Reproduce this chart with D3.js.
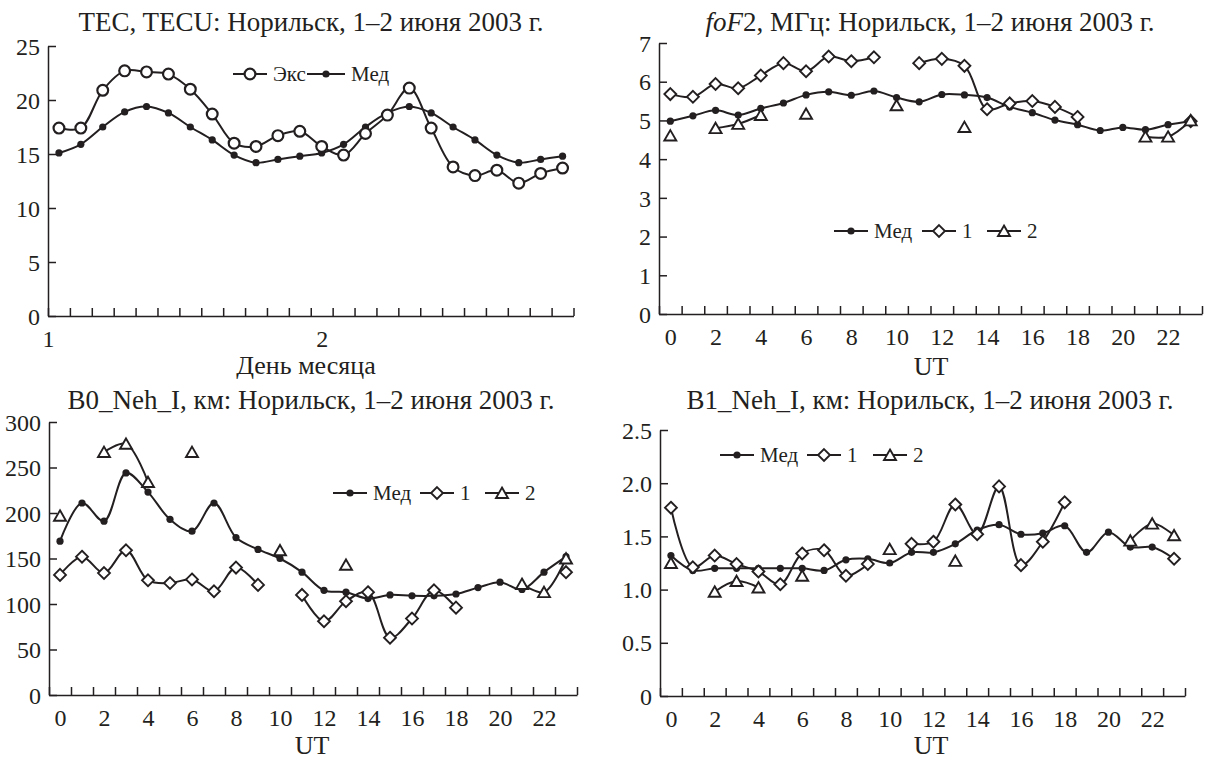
<!DOCTYPE html>
<html>
<head>
<meta charset="utf-8">
<script src="https://cdn.jsdelivr.net/npm/d3@7"></script>
<style>
  body { margin: 0; background: #fff; }
  svg { display: block; font-family: "Liberation Serif", "Times New Roman", serif; }
</style>
</head>
<body>
<svg id="chart" width="1211" height="762"></svg>
<script>
// TEC, two-hour steps over 1-2 June
const tecDayLabels = ['1', '2'];
const tecDayAt = [-0.5, 12];
const tecExc = [17.4, 17.4, 20.9, 22.7, 22.6, 22.4, 21.0, 18.7, 16.0, 15.7, 16.7, 17.1,
                15.7, 14.9, 16.9, 18.6, 21.1, 17.4, 13.8, 13.0, 13.5, 12.3, 13.2, 13.7];
const tecMed = [15.1, 15.9, 17.5, 18.9, 19.4, 18.8, 17.5, 16.3, 14.9, 14.2, 14.5, 14.8,
                15.1, 15.9, 17.5, 18.8, 19.4, 18.8, 17.5, 16.3, 14.9, 14.2, 14.5, 14.8];

// hourly UT panels
const utLabels = ['0', '2', '4', '6', '8', '10', '12', '14', '16', '18', '20', '22'];
const utAt = [0, 2, 4, 6, 8, 10, 12, 14, 16, 18, 20, 22];

const foMed = [4.98, 5.12, 5.26, 5.14, 5.31, 5.45, 5.66, 5.74, 5.65, 5.76, 5.59, 5.48,
               5.67, 5.66, 5.59, 5.35, 5.20, 5.01, 4.89, 4.74, 4.82, 4.76, 4.89, 4.97];
const foOne = [5.68, 5.61, 5.94, 5.83, 6.16, 6.48, 6.27, 6.65, 6.53, 6.63, null, 6.48,
               6.59, 6.41, 5.29, 5.44, 5.50, 5.35, 5.09, null, null, null, null, 4.98];
const foTwo = [4.61, null, 4.80, 4.91, 5.14, null, 5.17, null, null, null, 5.39, null,
               null, 4.83, null, null, null, null, null, null, null, 4.58, 4.58, 5.00];

const b0Med = [169, 211, 191, 244, 223, 193, 180, 211, 173, 160, 150, 135,
               115, 113, 106, 110, 109, 109, 111, 118, 124, 116, 135, 152];
const b0One = [132, 152, 134, 159, 126, 123, 127, 114, 140, 121, null, 110,
               81, 103, 113, 63, 84, 115, 96, null, null, null, null, 135];
const b0Two = [197, null, 267, 276, 234, null, 267, null, null, null, 159, null,
               null, 143, null, null, null, null, null, null, null, 122, 113, 150];

const b1Med = [1.32, 1.18, 1.20, 1.20, 1.20, 1.20, 1.20, 1.18, 1.28, 1.29, 1.25, 1.35,
               1.35, 1.43, 1.56, 1.61, 1.52, 1.53, 1.60, 1.35, 1.54, 1.40, 1.40, 1.29];
const b1One = [1.77, 1.21, 1.32, 1.24, 1.17, 1.05, 1.34, 1.37, 1.13, 1.24, null, 1.43,
               1.45, 1.80, 1.52, 1.97, 1.23, 1.45, 1.82, null, null, null, null, 1.29];
const b1Two = [1.25, null, 0.98, 1.08, 1.02, null, 1.13, null, null, null, 1.38, null,
               null, 1.27, null, null, null, null, null, null, null, 1.46, 1.62, 1.51];

const ink = '#231f20';
const serif = '"Liberation Serif", "Times New Roman", serif';
const svg = d3.select('#chart');

function markerPath(kind) {
  if (kind === 'diamond') return d3.symbol(d3.symbolDiamond2, 90)();
  if (kind === 'triangle') return d3.symbol(d3.symbolTriangle, 62)();
  return null;
}

function addMarker(g, kind, cx, cy) {
  if (kind === 'dot') {
    g.append('circle').attr('cx', cx).attr('cy', cy).attr('r', 3.6).attr('fill', ink);
  } else if (kind === 'circle') {
    g.append('circle').attr('cx', cx).attr('cy', cy).attr('r', 5.4)
      .attr('fill', '#fff').attr('stroke', ink).attr('stroke-width', 2.2);
  } else {
    g.append('path').attr('d', markerPath(kind))
      .attr('transform', `translate(${cx},${cy + (kind === 'triangle' ? 1.5 : 0)})`)
      .attr('fill', '#fff').attr('stroke', ink).attr('stroke-width', 1.9);
  }
}

function drawPanel(p) {
  const g = svg.append('g');
  const x = d3.scaleLinear().domain([-0.5, 23.5]).range([p.left, p.right]);
  const y = d3.scaleLinear().domain([0, p.yMax]).range([p.bottom, p.top]);

  const styleAxis = a => a
    .attr('font-family', serif)
    .attr('font-size', 24)
    .attr('color', ink)
    .call(a => a.selectAll('line, path').attr('stroke-width', 1.5));

  g.append('g')
    .attr('transform', `translate(${p.left},0)`)
    .call(d3.axisLeft(y).tickValues(p.yTicks).tickFormat(p.yFormat)
      .tickSizeInner(-8).tickSizeOuter(0).tickPadding(8))
    .call(styleAxis)
    .call(a => a.selectAll('text').attr('dy', '0.34em'));

  g.append('g')
    .attr('transform', `translate(0,${p.bottom})`)
    .call(d3.axisBottom(x).tickValues(d3.range(-0.5, 24, 1)).tickFormat('')
      .tickSizeInner(-8).tickSizeOuter(0))
    .call(styleAxis);

  g.append('g')
    .attr('transform', `translate(0,${p.bottom})`)
    .call(d3.axisBottom(x).tickValues(p.xAt).tickFormat((d, i) => p.xLabels[i])
      .tickSize(0).tickPadding(14))
    .call(styleAxis)
    .call(a => a.select('.domain').remove());

  const line = d3.line()
    .defined(d => d[1] != null)
    .x(d => x(d[0]))
    .y(d => y(d[1]))
    .curve(d3.curveCatmullRom);

  p.series.forEach(s => {
    const pts = s.values.map((v, i) => [i, v]);
    g.append('path')
      .attr('d', line(pts))
      .attr('fill', 'none')
      .attr('stroke', ink)
      .attr('stroke-width', 2)
      .attr('stroke-linejoin', 'round');
  });
  p.series.forEach(s => {
    s.values.forEach((v, i) => {
      if (v != null) addMarker(g, s.marker, x(i), y(v));
    });
  });

  // legend
  p.legend.forEach(it => {
    g.append('line').attr('x1', it.x0).attr('x2', it.x1)
      .attr('y1', p.legendY).attr('y2', p.legendY)
      .attr('stroke', ink).attr('stroke-width', 2);
    addMarker(g, it.marker, (it.x0 + it.x1) / 2, p.legendY);
    g.append('text').attr('x', it.x1 + 6).attr('y', p.legendY).attr('dy', '0.34em')
      .attr('font-size', 21).attr('fill', ink).text(it.label);
  });

  const title = g.append('text')
    .attr('x', p.titleX).attr('y', p.titleY)
    .attr('text-anchor', 'middle').attr('font-size', 27).attr('fill', ink);
  p.title.forEach(t => title.append('tspan').attr('font-style', t.italic ? 'italic' : null).text(t.text));

  g.append('text')
    .attr('x', p.xTitleX).attr('y', p.xTitleY)
    .attr('text-anchor', 'middle').attr('font-size', 26).attr('fill', ink)
    .text(p.xTitle);
}

const place = ', км: Норильск, 1–2 июня 2003 г.';

drawPanel({
  left: 48, right: 573.5, top: 46, bottom: 316, yMax: 25,
  yTicks: [0, 5, 10, 15, 20, 25], yFormat: d3.format('d'),
  xAt: tecDayAt, xLabels: tecDayLabels,
  series: [{ values: tecMed, marker: 'dot' }, { values: tecExc, marker: 'circle' }],
  legendY: 74,
  legend: [
    { x0: 233, x1: 267, marker: 'circle', label: 'Экс' },
    { x0: 307, x1: 345, marker: 'dot', label: 'Мед' }
  ],
  title: [{ text: 'TEC, TECU: Норильск, 1–2 июня 2003 г.' }], titleX: 311, titleY: 31,
  xTitle: 'День месяца', xTitleX: 306, xTitleY: 374
});

drawPanel({
  left: 659, right: 1202, top: 43, bottom: 314, yMax: 7,
  yTicks: [0, 1, 2, 3, 4, 5, 6, 7], yFormat: d3.format('d'),
  xAt: utAt, xLabels: utLabels,
  series: [{ values: foMed, marker: 'dot' }, { values: foOne, marker: 'diamond' }, { values: foTwo, marker: 'triangle' }],
  legendY: 231,
  legend: [
    { x0: 834, x1: 868, marker: 'dot', label: 'Мед' },
    { x0: 922, x1: 956, marker: 'diamond', label: '1' },
    { x0: 987, x1: 1021, marker: 'triangle', label: '2' }
  ],
  title: [{ text: 'foF', italic: true }, { text: '2, МГц: Норильск, 1–2 июня 2003 г.' }], titleX: 930, titleY: 31,
  xTitle: 'UT', xTitleX: 931, xTitleY: 375
});

drawPanel({
  left: 49, right: 577, top: 422, bottom: 695, yMax: 300,
  yTicks: [0, 50, 100, 150, 200, 250, 300], yFormat: d3.format('d'),
  xAt: utAt, xLabels: utLabels,
  series: [{ values: b0Med, marker: 'dot' }, { values: b0One, marker: 'diamond' }, { values: b0Two, marker: 'triangle' }],
  legendY: 493,
  legend: [
    { x0: 333, x1: 367, marker: 'dot', label: 'Мед' },
    { x0: 420, x1: 454, marker: 'diamond', label: '1' },
    { x0: 485, x1: 519, marker: 'triangle', label: '2' }
  ],
  title: [{ text: 'B0_Neh_I' + place }], titleX: 311, titleY: 409,
  xTitle: 'UT', xTitleX: 312, xTitleY: 754
});

drawPanel({
  left: 660, right: 1185, top: 430, bottom: 696, yMax: 2.5,
  yTicks: [0, 0.5, 1, 1.5, 2, 2.5], yFormat: d => d === 0 ? '0' : d.toFixed(1),
  xAt: utAt, xLabels: utLabels,
  series: [{ values: b1Med, marker: 'dot' }, { values: b1One, marker: 'diamond' }, { values: b1Two, marker: 'triangle' }],
  legendY: 455,
  legend: [
    { x0: 720, x1: 754, marker: 'dot', label: 'Мед' },
    { x0: 807, x1: 841, marker: 'diamond', label: '1' },
    { x0: 873, x1: 907, marker: 'triangle', label: '2' }
  ],
  title: [{ text: 'B1_Neh_I' + place }], titleX: 930, titleY: 409,
  xTitle: 'UT', xTitleX: 931, xTitleY: 754
});
</script>
</body>
</html>
